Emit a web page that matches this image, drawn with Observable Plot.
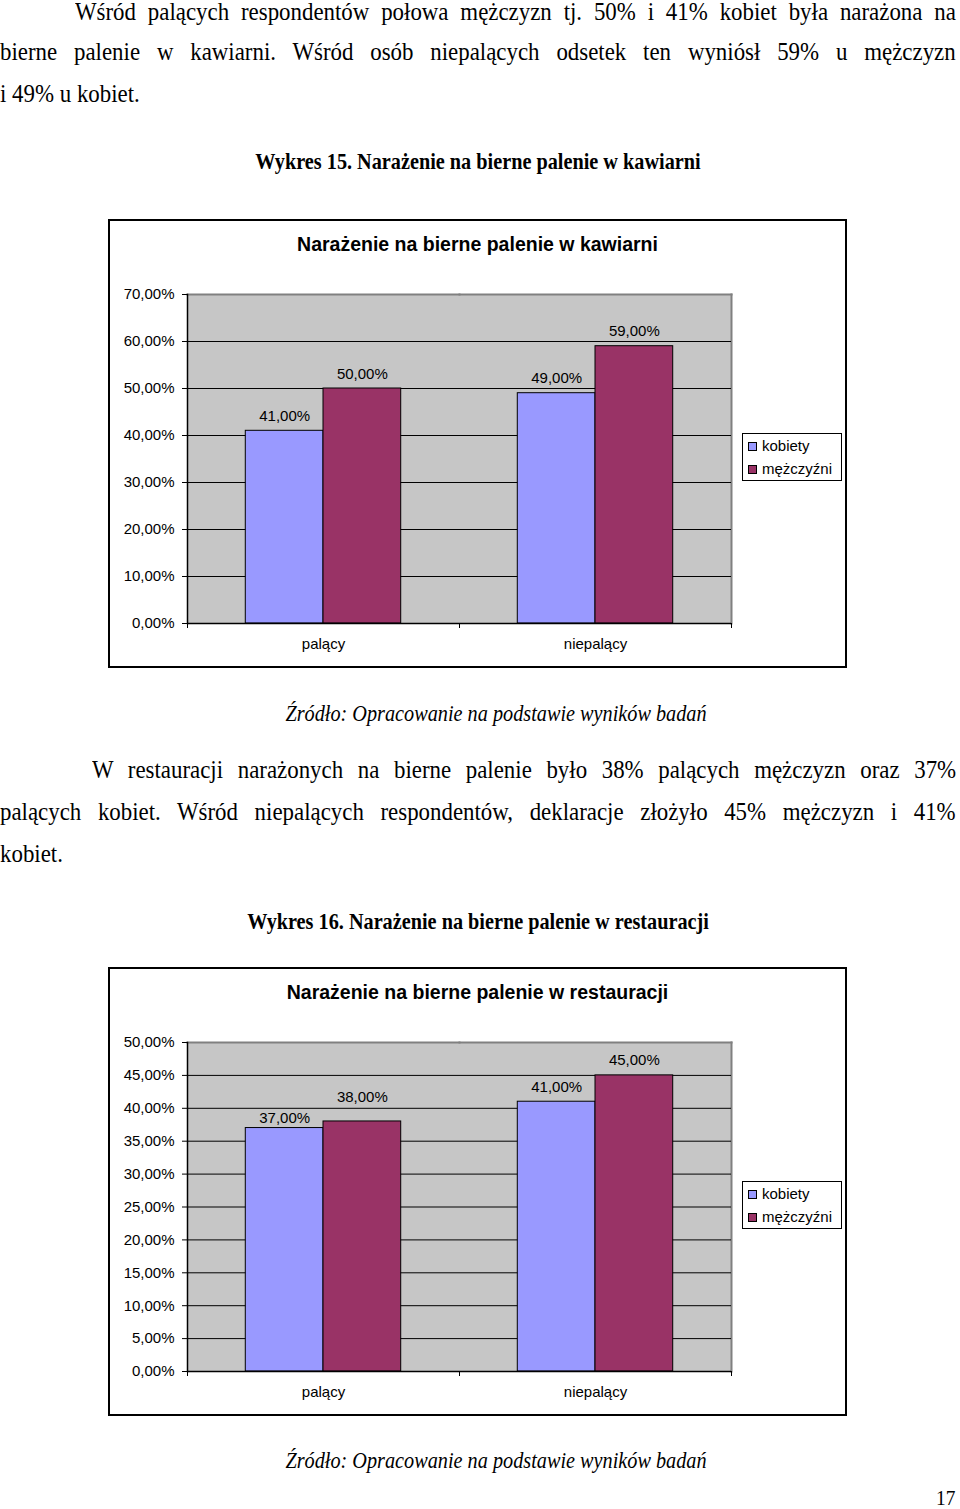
<!DOCTYPE html>
<html><head><meta charset="utf-8">
<script src="https://cdn.jsdelivr.net/npm/d3@7"></script>
<script src="https://cdn.jsdelivr.net/npm/@observablehq/plot@0.6"></script>
<style>
body{margin:0;background:#fff;width:960px;height:1509px;position:relative;overflow:hidden;}
.t{position:absolute;font-family:"Liberation Serif","Times New Roman",serif;color:#000;font-size:26px;line-height:30px;height:30px;transform-origin:0 0;transform:scaleX(0.88);}
.j{text-align:justify;text-align-last:justify;}
.c{left:0;width:960px;text-align:center;white-space:nowrap;transform-origin:50% 0;}
.box{position:absolute;left:108px;width:739px;height:449px;border:2px solid #000;box-sizing:border-box;background:#fff;}
.box svg{position:absolute;left:0;top:0;}
.ctitle{position:absolute;left:0;width:735px;top:12px;line-height:22px;text-align:center;font:bold 19.5px "Liberation Sans",Arial,sans-serif;color:#000;}
.legend{position:absolute;left:632px;top:212px;width:100px;height:48px;border:1px solid #000;box-sizing:border-box;background:#fff;font:15px "Liberation Sans",Arial,sans-serif;color:#000;}
.legend .row{height:23px;line-height:23px;padding-left:5px;white-space:nowrap;}
.legend .sw{display:inline-block;width:7px;height:7px;border:1px solid #000;margin-right:5px;vertical-align:0px;}
</style></head>
<body>
<div class="t j" style="top:-3px;left:75px;width:1001px;">Wśród palących respondentów połowa mężczyzn tj. 50% i 41% kobiet była narażona na</div>
<div class="t j" style="top:37px;left:0;width:1086px;">bierne palenie w kawiarni. Wśród osób niepalących odsetek ten wyniósł 59% u mężczyzn</div>
<div class="t" style="top:79px;left:0;">i 49% u kobiet.</div>
<div class="t c" style="top:147px;font-weight:bold;font-size:23px;left:-2px;">Wykres 15. Narażenie na bierne palenie w kawiarni</div>

<div class="box" id="box1" style="top:219px;"></div>

<div class="t c" style="top:699px;font-style:italic;font-size:23px;left:16px;">Źródło: Opracowanie na podstawie wyników badań</div>
<div class="t j" style="top:755px;left:92px;width:982px;">W restauracji narażonych na bierne palenie było 38% palących mężczyzn oraz 37%</div>
<div class="t j" style="top:797px;left:0;width:1086px;">palących kobiet. Wśród niepalących respondentów, deklaracje złożyło 45% mężczyzn i 41%</div>
<div class="t" style="top:839px;left:0;">kobiet.</div>
<div class="t c" style="top:907px;font-weight:bold;font-size:23px;left:-2px;">Wykres 16. Narażenie na bierne palenie w restauracji</div>

<div class="box" id="box2" style="top:967px;"></div>

<div class="t c" style="top:1446px;font-style:italic;font-size:23px;left:16px;">Źródło: Opracowanie na podstawie wyników badań</div>
<div class="t" style="top:1483px;left:936px;font-size:22px;">17</div>

<script>
// ---- data ----
const categories = ["palący", "niepalący"];
const series = ["kobiety", "mężczyźni"];
const colors = ["#9999ff", "#993366"];

const kawiarniaTitle = "Narażenie na bierne palenie w kawiarni";
const kawiarniaKobiety = [0.41, 0.49];
const kawiarniaMezczyzni = [0.50, 0.59];
const kawiarniaTicks = [0, 0.1, 0.2, 0.3, 0.4, 0.5, 0.6, 0.7];

const restauracjaTitle = "Narażenie na bierne palenie w restauracji";
const restauracjaKobiety = [0.37, 0.41];
const restauracjaMezczyzni = [0.38, 0.45];
const restauracjaTicks = [0, 0.05, 0.1, 0.15, 0.2, 0.25, 0.3, 0.35, 0.4, 0.45, 0.5];

const fmt = d3.formatLocale({decimal: ",", thousands: " ", grouping: [3], currency: ["", " zł"]}).format(".2%");

function buildChart(boxId, title, kobiety, mezczyzni, ticks, dyFor) {
  const box = document.getElementById(boxId);
  const data = [];
  categories.forEach((c, i) => {
    data.push({cat: c, series: series[0], value: kobiety[i]});
    data.push({cat: c, series: series[1], value: mezczyzni[i]});
  });
  const W = 735, H = 445, mL = 77, mR = 114, mT = 73, mB = 43;
  const half = (W - mL - mR) / categories.length / 2;
  const yMax = ticks[ticks.length - 1];
  const labelGroups = d3.groups(data, d => dyFor(d));
  const svg = Plot.plot({
    width: W, height: H, marginLeft: mL, marginRight: mR, marginTop: mT, marginBottom: mB,
    style: {fontFamily: '"Liberation Sans", Arial, sans-serif', fontSize: "15px", color: "#000", background: "transparent", overflow: "visible"},
    fx: {domain: categories, padding: 0, label: null},
    x: {domain: series, paddingInner: 0, paddingOuter: 0.75, axis: null, round: false},
    y: {domain: [0, yMax]},
    color: {domain: series, range: colors},
    marks: [
      Plot.frame({fill: "#c6c6c6", stroke: null, shapeRendering: "crispEdges"}),
      Plot.frame({anchor: "top", stroke: "#808080", strokeWidth: 2}),
      Plot.frame({anchor: "right", stroke: "#808080", strokeWidth: 2, facetAnchor: "right"}),
      Plot.ruleY(ticks.filter(t => t > 0 && t < yMax), {stroke: "#000", strokeWidth: 1}),
      Plot.barY(data, {fx: "cat", x: "series", y: "value", fill: "series", stroke: "#000", strokeWidth: 1}),
      Plot.ruleY([0], {stroke: "#000", strokeWidth: 1.5}),
      Plot.frame({anchor: "left", stroke: "#000", strokeWidth: 1.5, facetAnchor: "left"}),
      Plot.axisY({ticks: ticks, tickFormat: fmt, tickSize: 5, tickPadding: 8, label: null}),
      Plot.axisFx({anchor: "bottom", tickSize: 0, tickPadding: 15, label: null}),
      Plot.axisFx({anchor: "bottom", tickSize: 5, tickFormat: () => "", label: null, dx: -half}),
      Plot.axisFx({anchor: "bottom", ticks: [categories[categories.length - 1]], tickSize: 5, tickFormat: () => "", label: null, dx: half}),
      ...labelGroups.map(([dy, rows]) =>
        Plot.text(rows, {fx: "cat", x: "series", y: "value", text: d => fmt(d.value), lineAnchor: "bottom", dy: dy, fill: "#000"}))
    ]
  });
  box.appendChild(svg);
  const t = document.createElement("div");
  t.className = "ctitle";
  t.textContent = title;
  box.appendChild(t);
  const lg = document.createElement("div");
  lg.className = "legend";
  series.forEach((s, i) => {
    const r = document.createElement("div");
    r.className = "row";
    const sw = document.createElement("span");
    sw.className = "sw";
    sw.style.background = colors[i];
    r.appendChild(sw);
    r.appendChild(document.createTextNode(s));
    lg.appendChild(r);
  });
  box.appendChild(lg);
}

buildChart("box1", kawiarniaTitle, kawiarniaKobiety, kawiarniaMezczyzni, kawiarniaTicks, d => -10);
buildChart("box2", restauracjaTitle, restauracjaKobiety, restauracjaMezczyzni, restauracjaTicks,
  d => d.cat === categories[0] ? (d.series === series[0] ? -5 : -19) : -10);
</script>
</body></html>
